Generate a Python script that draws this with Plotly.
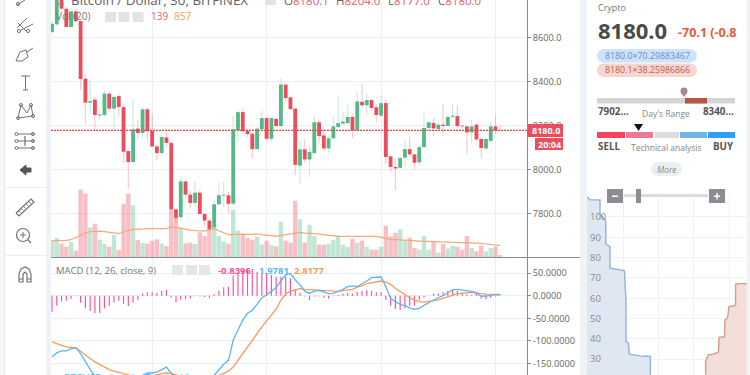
import plotly.graph_objects as go

# ---------- Data ----------
OPEN = [8627,8662,8800,8733,8650,8721,8677,8415,8306,8320,8248,8250,8347,8279,8336,8286,8086,8036,8188,8168,8276,8177,8107,8077,8148,8123,7821,7785,7948,7888,7850,7897,7800,7770,7740,7844,7884,7885,7847,8180,8263,8177,8165,8095,8185,8236,8142,8232,8200,8388,8330,8279,8020,8094,8048,8077,8217,8157,8098,8144,8195,8211,8213,8241,8180,8310,8294,8318,8285,8247,8304,8062,8014,8010,8056,8095,8071,8035,8104,8191,8214,8186,8206,8201,8242,8245,8201,8198,8171,8206,8141,8098,8132,8198,8180.1]
HIGH = [8680,8800,8810,8740,8735,8725,8680,8435,8407,8332,8279,8362,8354,8342,8347,8290,8090,8324,8226,8286,8286,8256,8119,8173,8183,8130,7825,7971,7952,7908,7948,7908,7805,7775,7860,7942,7945,7900,8248,8271,8279,8188,8170,8195,8271,8240,8240,8240,8420,8392,8335,8282,8135,8142,8112,8248,8226,8195,8157,8245,8339,8263,8297,8256,8354,8392,8347,8324,8301,8339,8319,8066,8051,8059,8135,8150,8075,8110,8260,8222,8238,8215,8301,8250,8301,8294,8205,8200,8226,8210,8145,8145,8218,8248,8204]
LOW = [8620,8655,8730,8650,8645,8672,8362,8210,8256,8180,8229,8241,8263,8180,8248,8033,7915,8029,8142,8150,8135,8104,8044,8066,8104,7815,7760,7771,7878,7824,7832,7798,7741,7725,7730,7840,7832,7802,7839,8127,8173,8150,8051,8089,8180,8135,8127,8195,8195,8304,8270,7976,7938,8033,7968,8070,8120,8089,8077,8140,8190,8205,8208,8145,8175,8285,8248,8267,8215,8240,8029,7991,7907,8005,8014,8060,8003,8021,8100,8170,8153,8180,8154,8196,8235,8195,8180,8074,8124,8130,8051,8092,8125,8165,8177]
CLOSE = [8665,8790,8733,8650,8721,8677,8413,8306,8313,8250,8253,8347,8279,8332,8286,8083,8036,8185,8168,8276,8176,8107,8077,8150,8123,7821,7782,7948,7888,7850,7897,7800,7770,7733,7844,7885,7888,7846,8185,8263,8176,8163,8095,8188,8236,8142,8236,8200,8388,8327,8277,8023,8094,8048,8082,8217,8154,8098,8144,8198,8213,8220,8241,8180,8312,8294,8318,8282,8250,8304,8059,8014,8007,8054,8095,8071,8033,8104,8191,8217,8189,8206,8200,8241,8247,8200,8198,8171,8198,8139,8100,8141,8198,8180,8180.0]
VOLUME = [1265,1442,1012,784,1138,481,5110,4807,2252,2530,1316,987,784,1695,531,4048,4807,3922,1290,1063,1012,1240,1341,1037,835,3593,3011,2252,1037,1088,987,1872,1594,2201,2328,1594,1189,1012,3567,1999,1695,1442,1316,1543,961,1240,911,810,2682,1240,1088,4276,2859,1088,2454,1594,936,936,987,1290,1619,936,784,1392,1088,1240,784,557,557,784,2378,1569,1847,2125,1240,1467,683,557,1594,557,1189,329,987,633,860,784,557,1594,683,430,860,430,683,784,139]
VOL_MA = [1240,1240,1240,1265,1316,1493,1695,1822,1923,1948,1973,1923,1872,1822,1771,1898,2024,2100,2125,2151,2151,2151,2151,2151,2151,2302,2226,2151,2100,2049,1999,1973,1973,2075,2151,1999,1822,1695,1695,1746,1746,1720,1746,1746,1695,1645,1569,1569,1645,1695,1746,1822,1872,1822,1771,1771,1746,1695,1619,1594,1569,1569,1569,1569,1569,1569,1569,1569,1569,1493,1392,1341,1316,1290,1265,1240,1240,1214,1189,1189,1164,1164,1139,1139,1088,1088,1088,1088,1088,1063,1037,987,936,886,857]
MACD_HIST = [-35.5,-22,-13,-11,-7.5,-1,-15.5,-28,-34,-39,-38.5,-28,-22,-15,-11,-18,-23,-15.5,-9.5,5,7.5,7.5,6,11,13,-4.5,-15,-9,-7.5,-6,-1,-2,-3,-4.5,3,11,18.5,20,44.5,52,57,60.5,59,53,49.5,49.5,46,42,42,42,38.5,15,6.5,-2,-9.5,-2,-1.5,-4.5,-6,-1,1.5,4.5,6,4.5,9,10.5,12,10.5,7.5,7.5,-9.5,-22,-29.5,-31,-28,-22,-22,-9.5,-4.5,0,4.5,5,7.5,10.5,12.5,10.5,7.5,3,1.5,4.5,-6,-8,-4.5,-1.5,-0.8396]
MACD_LINE = [-135,-126.5,-122,-122,-117,-115.5,-128,-146.5,-163,-177.5,-190,-198,-204,-210,-212,-210,-205,-195,-185,-176,-171,-171,-169,-164,-158,-172,-182,-190,-194,-196,-196,-192,-188,-182,-176,-163.5,-151.7,-143,-98,-76,-54,-39,-32,-19,-4.5,1.5,10,18,32.5,46,49,35,24,10,5,10,12,9,4.5,5,9,14,20,21.5,20,26,32.5,40,40.7,41.4,20,-6,-13,-19,-22,-27,-30,-28,-21,-15,-10,-4.5,0,7.5,13,14,13,11,9.6,6.7,-1.5,-0.7,1.5,2.2,1.9781]
MACD_SIGNAL = [-102,-106.5,-110,-113,-114.7,-115.4,-123,-131.7,-139,-146.5,-152.4,-159,-163.5,-167,-169.5,-172.4,-176,-178,-179,-179,-178,-177.6,-174.6,-172.4,-170,-172.4,-176,-178,-180,-180,-180,-180,-180,-180,-178,-176,-171.7,-166.5,-157.6,-142.8,-128,-111.7,-97,-82,-69,-55.5,-43,-30,-9.6,3.7,10.4,13.3,15.5,14,13.3,12,11,10.4,9.6,9,9.6,11,13.3,14,19,21.5,26.6,29,31,32.5,30,25,16.3,9,1.5,-4.4,-9.6,-13.3,-14,-13.3,-11,-9,-6,-2,1.5,4.4,5,6.7,6.7,5,4.4,3.7,3.7,3.7,2.8177]
LAST_PRICE = 8180.0
PRICE_TICKS = [8600, 8400, 8200, 8000, 7800]
PRICE_LABELS = ["8600.0", "8400.0", "8200.0", "8000.0", "7800.0"]
MACD_TICKS = [50, 0, -50, -100, -150]
MACD_LABELS = ["50.0000", "0.0000", "-50.0000", "-100.0000", "-150.0000"]
TIME_GRID = [21, 45, 69, 93]

BID_PRICE = [8134.4,8136,8141,8141,8143.9,8143.9,8146,8146,8153.2,8154,8154,8155.2,8155.7,8161,8166.2,8166.2]
BID_DEPTH = [110,108.4,108.4,101.3,98.2,86.6,85.4,74.8,73.6,58.4,38.7,37.9,32.5,31.6,31.3,22.3]
ASK_PRICE = [8193.8,8193.8,8195.2,8197.7,8200.2,8200.5,8203.2,8203.5,8204.8,8205.5,8208.8,8208.8,8211,8214.4]
ASK_DEPTH = [22.3,28.9,32.1,32.5,33.4,40.7,41,49.3,50.5,55.9,56.4,66.9,67.2,67.2]
DEPTH_TICKS = [100, 90, 80, 70, 60, 50, 40, 30]
DEPTH_GRID_X = [8152.5, 8170, 8187.5, 8205.5]

# ---------- Styling ----------
W, H = 750, 375
UP, DOWN = "#53b987", "#eb4d5c"
GRID = "#e9f0f4"
AXIS = "#868b8e"
FONT = "Open Sans"
def X(p): return p / W
def Y(p): return 1 - p / H

idx = list(range(len(OPEN)))
colors = [UP if c > o else DOWN for o, c in zip(OPEN, CLOSE)]
wick_c = ["rgba(83,185,135,0.3)" if c == UP else "rgba(235,77,92,0.3)" for c in colors]
vol_c = ["rgba(83,185,135,0.36)" if c == UP else "rgba(235,77,92,0.36)" for c in colors]

fig = go.Figure()
fig.add_bar(x=idx, y=VOLUME, width=0.92, marker=dict(color=vol_c, line_width=0), xaxis="x", yaxis="y", hoverinfo="skip")
fig.add_scatter(x=idx, y=VOL_MA, mode="lines", line=dict(color="#f7a878", width=1.2), xaxis="x", yaxis="y", hoverinfo="skip")
fig.add_bar(x=idx, y=[h - l for h, l in zip(HIGH, LOW)], base=LOW, width=0.24, marker=dict(color=wick_c, line_width=0), xaxis="x", yaxis="y2", hoverinfo="skip")
fig.add_bar(x=idx, y=[abs(c - o) for o, c in zip(OPEN, CLOSE)], base=[min(o, c) for o, c in zip(OPEN, CLOSE)], width=0.8, marker=dict(color=colors, line_width=0), xaxis="x", yaxis="y2", hoverinfo="skip")
fig.add_bar(x=idx, y=MACD_HIST, width=0.24, marker=dict(color="#f9509f", line_width=0), xaxis="x2", yaxis="y3", hoverinfo="skip")
fig.add_scatter(x=idx, y=MACD_SIGNAL, mode="lines", line=dict(color="#fb9a5b", width=1.3), xaxis="x2", yaxis="y3", hoverinfo="skip")
fig.add_scatter(x=idx, y=MACD_LINE, mode="lines", line=dict(color="#5bb4f5", width=1.3), xaxis="x2", yaxis="y3", hoverinfo="skip")
fig.add_scatter(x=BID_PRICE, y=BID_DEPTH, mode="lines", fill="tozeroy", fillcolor="#dfe7f2", line=dict(color="#8fb2df", width=1.4), xaxis="x3", yaxis="y4", hoverinfo="skip")
fig.add_scatter(x=ASK_PRICE, y=ASK_DEPTH, mode="lines", fill="tozeroy", fillcolor="#f3dfda", line=dict(color="#d49c8e", width=1.4), xaxis="x3", yaxis="y4", hoverinfo="skip")

# ---------- Chrome helpers ----------
shapes, notes = [], []
def rect(x0, y0, x1, y1, fill, line=None):
    shapes.append(dict(type="rect", xref="paper", yref="paper", x0=X(x0), x1=X(x1), y0=Y(y0), y1=Y(y1), fillcolor=fill, line=dict(width=0 if line is None else 1, color=line or fill), layer="above"))
def seg(pts, color="#6d7378", width=1, fill=None):
    d = "M" + " L".join(f"{X(a):.5f},{Y(b):.5f}" for a, b in pts) + (" Z" if fill else "")
    shapes.append(dict(type="path", path=d, xref="paper", yref="paper", line=dict(color=color, width=width), fillcolor=fill or "rgba(0,0,0,0)", layer="above"))
def circ(cx, cy, r, color="#6d7378", fill="rgba(0,0,0,0)", width=1):
    shapes.append(dict(type="circle", xref="paper", yref="paper", x0=X(cx - r), x1=X(cx + r), y0=Y(cy + r), y1=Y(cy - r), line=dict(color=color, width=width), fillcolor=fill, layer="above"))
def txt(x, y, s, size=10, color="#666", anchor="left", bold=False, bg=None, font=FONT, italic=False):
    notes.append(dict(xref="paper", yref="paper", x=X(x), y=Y(y), xanchor=anchor, yanchor="middle", text=f"<b>{s}</b>" if bold else s, showarrow=False, bgcolor=bg, borderpad=0, font=dict(family=font, size=size, color=color, style="italic" if italic else "normal")))
def pill(x0, y0, x1, y1, fill):
    r = (y1 - y0) / 2
    rect(x0 + r, y0, x1 - r, y1, fill)
    circ(x0 + r, y0 + r, r, fill, fill, 0)
    circ(x1 - r, y0 + r, r, fill, fill, 0)

# left toolbar
rect(0, 0, 4, 375, "#f7f8fa"); rect(4, 0, 5, 375, "#e4e6e9")
rect(46, 0, 51, 375, "#eef1f5")
rect(5, 187, 46, 188, "#eceef0"); rect(5, 255, 46, 256, "#eceef0")
seg([(17, 5), (25, 0)]); circ(18, 4, 1.6)
seg([(17, 28), (27, 18)]); seg([(21, 30), (33, 24)]); seg([(18, 23), (27, 32)]); circ(19, 31, 1.6); circ(28, 31, 1.6)
seg([(16, 61), (20, 52), (26, 50), (28, 57), (22, 61), (16, 61)]); seg([(27, 52), (33, 48)])
seg([(21, 76), (30, 76)]); seg([(25.5, 76), (25.5, 90)]); seg([(23, 90), (28, 90)])
seg([(18, 118), (21, 105), (27, 113), (31, 105), (33, 116), (18, 118)]); circ(18, 118, 1.5); circ(21, 105, 1.5); circ(31, 105, 1.5); circ(33, 116, 1.5)
for yy in (134, 141, 148):
    seg([(18, yy), (34, yy)]); circ(16.5, yy, 1.5); circ(33, yy, 1.5)
seg([(25, 136), (25, 146)], "#555")
seg([(20, 170), (26, 165), (26, 168), (31, 168), (31, 172), (26, 172), (26, 175)], "#50565a", 1, "#50565a")
seg([(16, 213), (31, 199), (34, 202), (19, 216), (16, 213)], width=1.2)
for k in range(1, 6):
    seg([(16 + 2.5 * k, 213 - 2.3 * k), (18 + 2.5 * k, 215 - 2.3 * k)])
circ(23, 235, 6.5, width=1.2); seg([(28, 240), (31, 243)], width=1.2); seg([(20, 235), (26, 235)]); seg([(23, 232), (23, 238)])
seg([(19, 282), (19, 274), (21, 269), (25, 267), (29, 269), (31, 274), (31, 282), (27, 282), (27, 274), (25, 272), (23, 274), (23, 282), (19, 282)], width=1.2)
seg([(19, 279), (23, 279)]); seg([(27, 279), (31, 279)])

# main pane divider and header
rect(51, 257, 580, 258, AXIS)
for x0 in (105, 118.5, 132.5):
    rect(x0, 12, x0 + 11, 22, "#e3e3e3")
for x0 in (172, 186, 199):
    rect(x0, 265, x0 + 11, 275, "#e6e6e6")
rect(265, 0, 276, 5, "#e3e3e3")
seg([(57, 0), (57, 4), (64, 4)], "#8a8a8a")
txt(70, 0, "Bitcoin / Dollar, 30, BITFINEX", 13.4, "#5f6366")
v = '<span style="color:#ee5a68">'
txt(283, 0, f'O{v}8180.1</span>', 11.5, "#666")
txt(335, 0, f'H{v}8204.0</span>', 11.5, "#666")
txt(387, 0, f'L{v}8177.0</span>', 11.5, "#666")
txt(437, 0, f'C{v}8180.0</span>', 11.5, "#666")
txt(55, 16, "Vol (20)", 10, "#777")
txt(150, 16, "139", 10, "#f0616f")
txt(173, 16, "857", 10, "#fa9d63")
txt(55, 270, "MACD (12, 26, close, 9)", 9.5, "#777")
txt(217, 270, "-0.8396", 9.5, "#f9509f", bold=True)
txt(258, 270, "1.9781", 9.5, "#5bb4f5", bold=True)
txt(293, 270, "2.8177", 9.5, "#fb9a5b", bold=True)
txt(63, 378, "BTCUSD chart by TradingView", 10, "#4fb8e0")

# last price line + labels (price label is anchored on the price axis)
shapes.append(dict(type="line", xref="x", yref="y2", x0=-0.21, x1=99.6, y0=LAST_PRICE, y1=LAST_PRICE, line=dict(color="#f0414f", width=1.2, dash="2px,1px"), layer="above"))
rect(528, 124, 563, 137, DOWN)
rect(535, 138, 563, 150, DOWN)
txt(545.5, 130.5, "8180.0", 9, "#fff", "center", True)
txt(549, 144, "20:04", 9, "#fff", "center", True)

# right panel
rect(580, 0, 587, 375, "#f0f3f6"); rect(747, 0, 750, 375, "#f0f3f6")
txt(597, 8, "Crypto", 9, "#777")
txt(597, 30, "8180.0", 22, "#4a4a4a", bold=True)
txt(677, 33, "-70.1 (-0.8", 12.5, "#e65a3e", bold=True)
pill(597, 49, 697, 62.5, "#cfe2fb")
pill(597, 63.5, 697, 77, "#f6d6d0")
txt(647, 55.5, "8180.0×70.29883467", 8.8, "#5f8fd0", "center")
txt(647, 70, "8180.1×38.25986866", 8.8, "#c0604f", "center")
rect(597, 98, 735, 103.5, "#d4d4d4"); rect(685, 98, 707, 103.5, "#b5573f")
circ(684, 91, 3.5, "#ab8686", "#ab8686", 0); seg([(681, 93), (687, 93), (684, 97), (681, 93)], "#ab8686", 0, "#ab8686")
txt(597, 112, "7902...", 9.8, "#555", bold=True)
txt(666, 113, "Day's Range", 8.5, "#888", "center")
txt(735, 112, "8340...", 9.8, "#555", "right", bold=True)
rect(597, 132, 625, 138, "#f8435f"); rect(626, 132, 653, 138, "#ec7a90"); rect(655, 132, 679, 138, "#dcdcdc"); rect(680, 132, 707, 138, "#72b4e4"); rect(708, 132, 735, 138, "#2f9ff0")
seg([(634, 124), (643, 124), (638.5, 131), (634, 124)], "#111", 0, "#111")
txt(597, 146, "SELL", 9.8, "#555", bold=True)
txt(666, 147, "Technical analysis", 8.5, "#888", "center")
txt(735, 146, "BUY", 9.8, "#555", "right", bold=True)
pill(651, 162, 682, 176, "#eceff2")
txt(666.5, 169, "More", 8.5, "#888", "center", italic=True)

# depth chart zoom controls
rect(624, 194, 708, 197, "#d9dce4")
rect(607, 189, 623, 203, "#8b8d90"); rect(709, 189, 725, 203, "#8b8d90"); rect(636, 189, 641, 203, "#8b8d90")
rect(612, 195.5, 618, 197, "#fff"); rect(714, 195.5, 720, 197, "#fff"); rect(716.3, 193, 717.7, 199.5, "#fff")

axis_common = dict(showline=False, zeroline=False, showticklabels=False, ticks="", tickmode="array", tickvals=TIME_GRID, showgrid=True, gridcolor=GRID, gridwidth=1, range=[-0.21, 99.6], domain=[X(51), X(527)], fixedrange=True)
tick_font = dict(family=FONT, size=9.2, color="#666")
fig.update_layout(
    width=W, height=H, autosize=False, margin=dict(l=0, r=0, t=0, b=0, pad=0), showlegend=False,
    paper_bgcolor="#fff", plot_bgcolor="rgba(0,0,0,0)", barmode="overlay", hovermode=False,
    xaxis=dict(anchor="y", **axis_common),
    xaxis2=dict(anchor="y3", matches="x", **axis_common),
    yaxis=dict(domain=[Y(257), 1], range=[0, 19532], visible=False, anchor="x", fixedrange=True),
    yaxis2=dict(domain=[Y(257), 1], range=[7604.5, 8772.7], overlaying="y", anchor="x", side="right", tickmode="array", tickvals=PRICE_TICKS, ticktext=PRICE_LABELS, ticks="outside", ticklen=3, tickcolor=AXIS, tickfont=tick_font, showline=True, linecolor=AXIS, linewidth=1, showgrid=True, gridcolor=GRID, zeroline=False, fixedrange=True),
    yaxis3=dict(domain=[0, Y(257)], range=[-175.4, 85.6], anchor="x2", side="right", tickmode="array", tickvals=MACD_TICKS, ticktext=MACD_LABELS, ticks="outside", ticklen=3, tickcolor=AXIS, tickfont=tick_font, showline=True, linecolor=AXIS, linewidth=1, showgrid=True, gridcolor=GRID, zeroline=False, fixedrange=True),
    xaxis3=dict(anchor="y4", domain=[X(587), X(747)], range=[8134.5, 8214.5], showticklabels=False, ticks="", tickmode="array", tickvals=DEPTH_GRID_X, showgrid=True, gridcolor="#f1f2f4", zeroline=False, fixedrange=True),
    yaxis4=dict(anchor="x3", domain=[0, Y(195)], range=[22.2, 110.8], tickmode="array", tickvals=DEPTH_TICKS, ticklabelposition="inside", tickfont=dict(family=FONT, size=9.5, color="#8a8a8a"), ticks="", showgrid=True, gridcolor="#f1f2f4", zeroline=False, showline=False, fixedrange=True),
    shapes=shapes, annotations=notes,
)
fig.write_html("out.html", config=dict(displayModeBar=False, staticPlot=True), post_script="document.body.style.margin='0';document.body.style.overflow='hidden';")
